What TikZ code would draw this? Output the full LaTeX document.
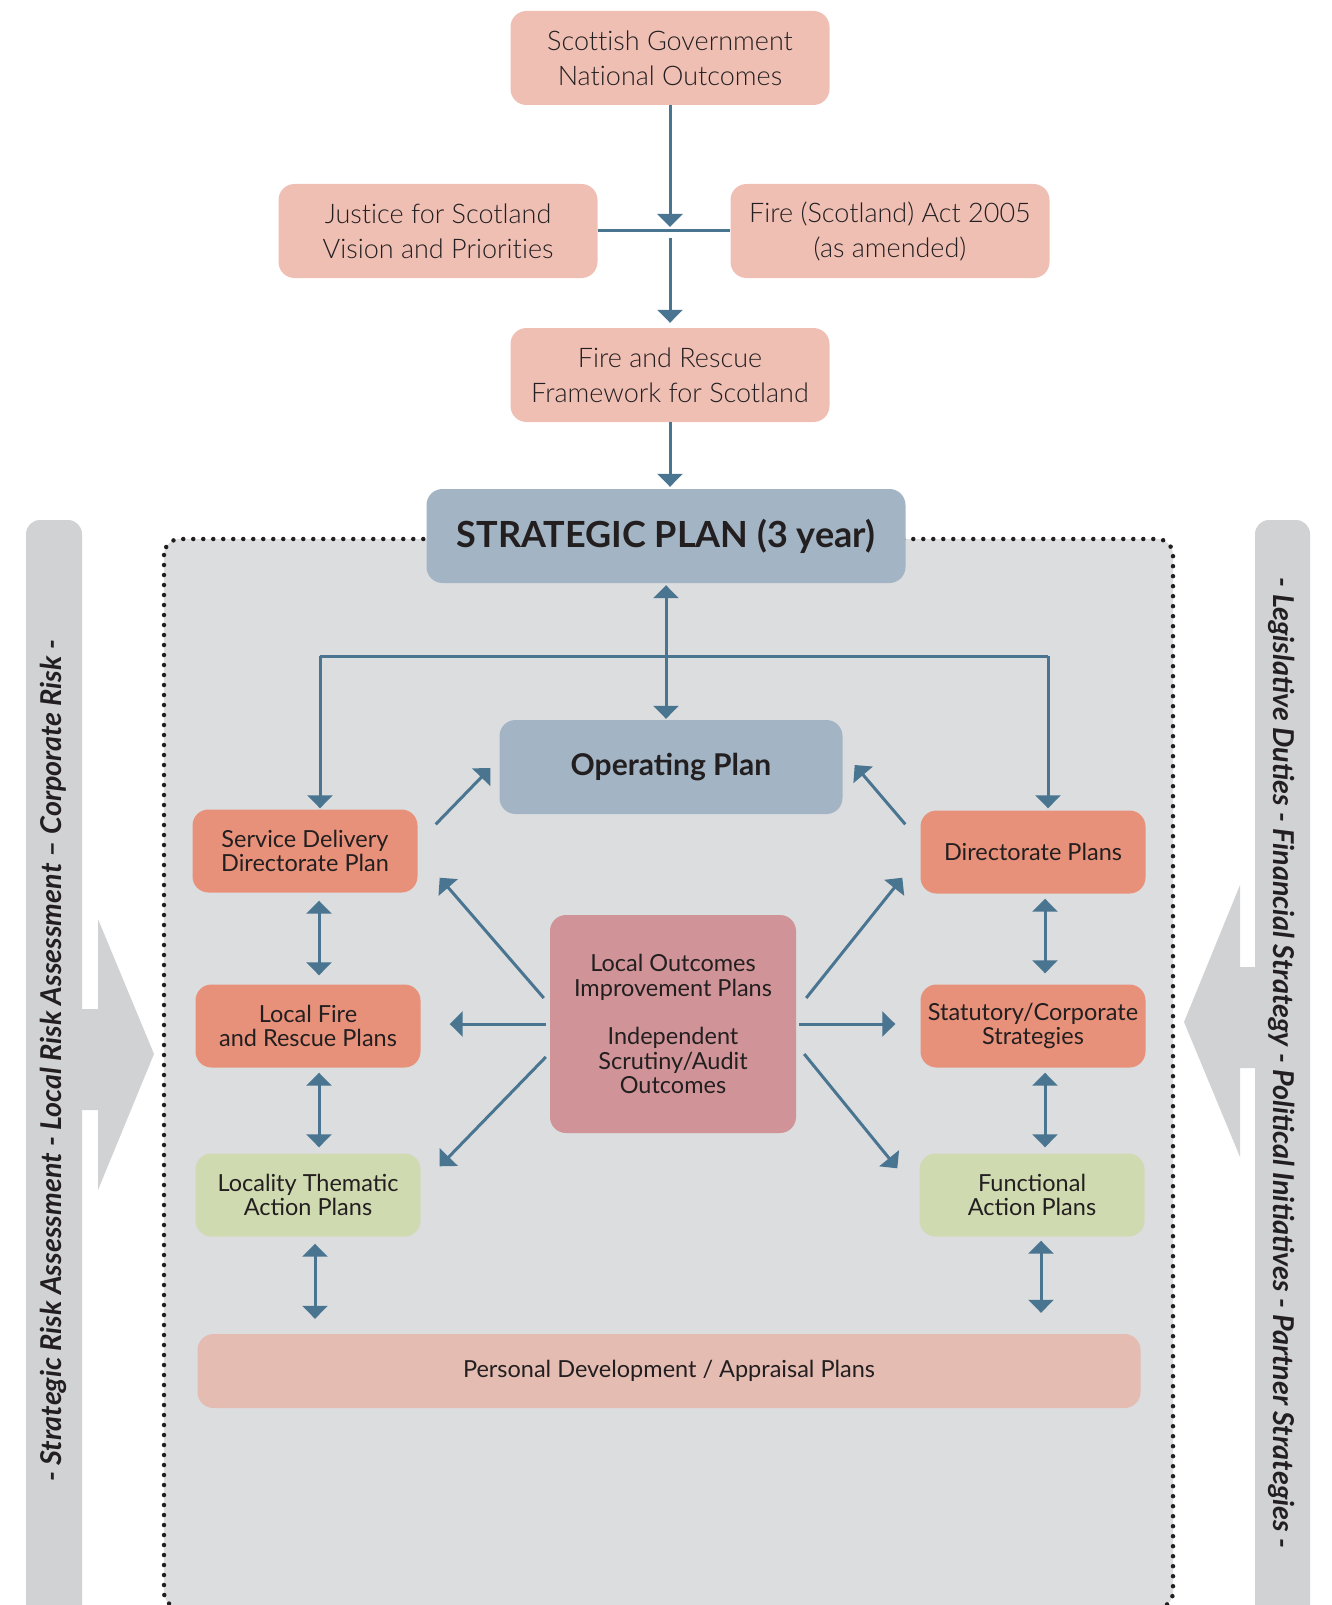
\documentclass[tikz,border=0pt]{standalone}
\usepackage{fontspec}
\setmainfont{Lato}
\newfontfamily\lightfont{Lato Light}[Ligatures=NoCommon]
\usetikzlibrary{arrows.meta,positioning,calc}

\definecolor{toppink}{HTML}{EFBFB4}
\definecolor{planblue}{HTML}{A3B5C4}
\definecolor{salmon}{HTML}{E8917A}
\definecolor{sage}{HTML}{D0DAB0}
\definecolor{blush}{HTML}{E4BCB2}
\definecolor{rose}{HTML}{D09498}
\definecolor{panel}{HTML}{DCDDDF}
\definecolor{sidebar}{HTML}{D1D2D4}
\definecolor{steel}{HTML}{4A7591}
\definecolor{ink}{HTML}{231F20}

\begin{document}
\begin{tikzpicture}[x=1pt,y=-1pt,
	box/.style={rounded corners=16pt, align=center, text=ink, inner sep=0pt},
	topbox/.style={box, fill=toppink, minimum width=319pt, minimum height=94pt, font=\lightfont\fontsize{27}{35}\selectfont},
	planbox/.style={box, fill=planblue, minimum height=94pt, font=\bfseries},
	midbox/.style={box, minimum width=225pt, minimum height=83pt, font=\fontsize{23.5}{24.5}\selectfont},
	arr/.style={draw=steel, line width=3pt, -{Triangle[width=25pt,length=13pt]}},
	darr/.style={arr, {Triangle[width=25pt,length=13pt]}-{Triangle[width=25pt,length=13pt]}},
	sidetext/.style={text=ink, font=\fontsize{28.7}{32}\selectfont\bfseries\itshape}]
		\clip (0,0) rectangle (1332,1605);
		% side bars and big arrows
		\fill[sidebar, rounded corners=14pt] (26,520) rectangle (82,1660);
		\fill[sidebar, rounded corners=14pt] (1255,520) rectangle (1310,1660);
		\fill[sidebar] (80,1009) -- (98,1009) -- (98,919) -- (154,1054) -- (98,1190) -- (98,1110) -- (80,1110) -- cycle;
		\fill[sidebar] (1257,967) -- (1240,967) -- (1240,885) -- (1184,1022) -- (1240,1157) -- (1240,1068) -- (1257,1068) -- cycle;
		\node[sidetext, rotate=90] (lrisk) at (53,1061) {- Strategic Risk Assessment - Local Risk Assessment – Corporate Risk -};
		\node[sidetext, rotate=-90] (rduty) at (1282,1063) {- Legislative Duties - Financial Strategy - Political Initiatives - Partner Strategies -};
		% dotted panel
		\draw[fill=panel, draw=ink, line width=4.5pt, line cap=round, dash pattern=on 0pt off 10pt, rounded corners=16pt] (164,539) rectangle (1173,1608);

		% top chain
		\node[topbox] (sgn) at (670,58) {Scottish Government\\National Outcomes};
		\node[topbox] (jfs) at (438,231) {Justice for Scotland\\Vision and Priorities};
		\node[topbox] (fsa) at (890,231) {Fire (Scotland) Act 2005\\(as amended)};
		\node[topbox] (frf) at (670,375) {Fire and Rescue\\Framework for Scotland};
		\coordinate (join) at (sgn.south |- jfs.east);
		\draw[steel, line width=3pt] (jfs.east) -- (fsa.west);
		\draw[arr, shorten >=4pt] (sgn.south) -- (join);
		\draw[arr, shorten <=7pt, shorten >=5pt] (join) -- (frf.north);

		% plans
		\node[planbox, minimum width=479pt, font=\fontsize{36}{40}\selectfont\bfseries] (sp) at (666,536) {STRATEGIC PLAN (3 year)};
		\node[planbox, minimum width=343pt, font=\fontsize{30}{34}\selectfont\bfseries] (op) at (671,767) {Operating Plan};
		\draw[arr, shorten >=2pt] (frf.south) -- (frf.south |- sp.north);
		\draw[darr, shorten <=2pt, shorten >=1pt] (sp.south) -- (sp.south |- op.north);

		\node[midbox, fill=salmon] (sdp) at (305,851) {Service Delivery\\Directorate Plan};
		\node[midbox, fill=salmon] (dp) at (1033,852) {Directorate Plans};
		\node[midbox, fill=salmon] (lfr) at (308,1026) {Local Fire\\and Rescue Plans};
		\node[midbox, fill=salmon] (scs) at (1033,1026) {Statutory/Corporate\\Strategies};
		\node[midbox, fill=sage] (ltp) at (308,1195) {Locality Thematic\\Action Plans};
		\node[midbox, fill=sage] (fap) at (1032,1195) {Functional\\Action Plans};
		\node[midbox, fill=blush, minimum width=943pt, minimum height=74pt] (pdp) at (669,1371) {Personal Development / Appraisal Plans};
		\node[midbox, fill=rose, minimum width=246pt, minimum height=218pt] (lop) at (673,1024) {Local Outcomes\\Improvement Plans\\[24pt]Independent\\Scrutiny/Audit\\Outcomes};

		% branch from strategic plan
		\coordinate (bl) at (320,656);
		\coordinate (br) at (1048,656);
		\draw[steel, line width=3pt] (bl) -- (br);
		\draw[arr, shorten >=1pt] (bl) -- (bl |- sdp.north);
		\draw[arr, shorten >=2pt] (br) -- (br |- dp.north);
		\draw[arr] ([shift={(18,15)}]sdp.north east) -- ([shift={(-9,1)}]op.west);
		\draw[arr] ([shift={(-15,14)}]dp.north west) -- ([shift={(12,-2)}]op.east);

		% left column
		\draw[darr, shorten <=8pt, shorten >=9pt] ([shift={(14,0)}]sdp.south) -- ([shift={(11,0)}]lfr.north);
		\draw[darr, shorten <=5pt, shorten >=6pt] ([shift={(11,0)}]lfr.south) -- ([shift={(11,0)}]ltp.north);
		\draw[darr, shorten <=7pt, shorten >=15pt] ([shift={(7,0)}]ltp.south) -- (pdp.north -| {315,0});
		% right column
		\draw[darr, shorten <=5pt, shorten >=11pt] ([shift={(12,0)}]dp.south) -- ([shift={(12,0)}]scs.north);
		\draw[darr, shorten <=5pt, shorten >=6pt] ([shift={(12,0)}]scs.south) -- ([shift={(13,0)}]fap.north);
		\draw[darr, shorten <=4pt, shorten >=21pt] ([shift={(9,0)}]fap.south) -- (pdp.north -| {1041,0});

		% from local outcomes
		\draw[arr] ([shift={(-6,-26)}]lop.west) -- ([shift={(22,-15)}]sdp.south east);
		\draw[arr, shorten <=4pt, shorten >=29pt] (lop.west) -- (lop.west -| lfr.east);
		\draw[arr] ([shift={(-4,33)}]lop.west) -- ([shift={(19,13)}]ltp.north east);
		\draw[arr] ([shift={(10,-26)}]lop.east) -- ([shift={(-18,-16)}]dp.south west);
		\draw[arr, shorten <=3pt, shorten >=25pt] (lop.east) -- (lop.east -| scs.west);
		\draw[arr] ([shift={(8,30)}]lop.east) -- ([shift={(-22,15)}]fap.north west);
	\end{tikzpicture}
\end{document}
